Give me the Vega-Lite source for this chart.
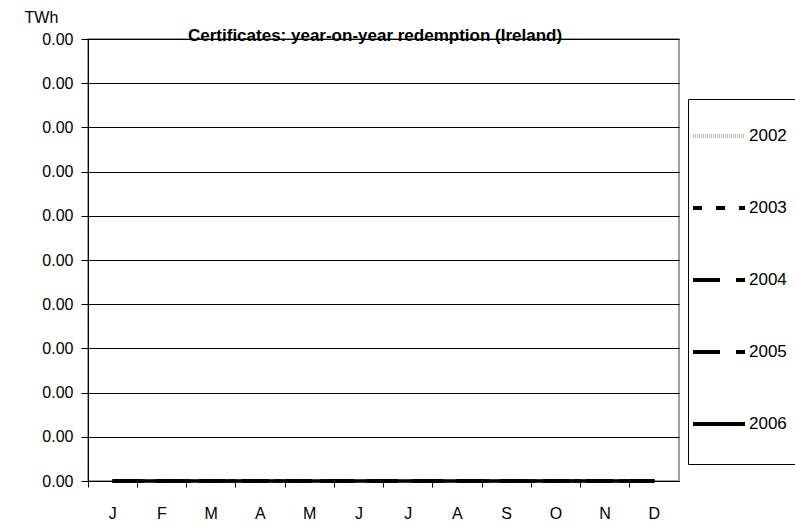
{
  "$schema": "https://vega.github.io/schema/vega-lite/v6.json",
  "width": 591,
  "height": 442,
  "autosize": "none",
  "padding": {"left": 88, "top": 39, "right": 116, "bottom": 48},
  "background": "white",
  "title": {
    "text": "Certificates: year-on-year redemption (Ireland)",
    "anchor": "start",
    "frame": "group",
    "dx": 100,
    "dy": 48,
    "offset": -1,
    "baseline": "alphabetic",
    "font": "Liberation Sans",
    "fontSize": 17,
    "fontWeight": "bold",
    "color": "black"
  },
  "data": {
    "values": [
      {"month": "J1", "year": "2002", "twh": 0}, {"month": "F", "year": "2002", "twh": 0}, {"month": "M1", "year": "2002", "twh": 0}, {"month": "A1", "year": "2002", "twh": 0}, {"month": "M2", "year": "2002", "twh": 0}, {"month": "J2", "year": "2002", "twh": 0}, {"month": "J3", "year": "2002", "twh": 0}, {"month": "A2", "year": "2002", "twh": 0}, {"month": "S", "year": "2002", "twh": 0}, {"month": "O", "year": "2002", "twh": 0}, {"month": "N", "year": "2002", "twh": 0}, {"month": "D", "year": "2002", "twh": 0},
      {"month": "J1", "year": "2003", "twh": 0}, {"month": "F", "year": "2003", "twh": 0}, {"month": "M1", "year": "2003", "twh": 0}, {"month": "A1", "year": "2003", "twh": 0}, {"month": "M2", "year": "2003", "twh": 0}, {"month": "J2", "year": "2003", "twh": 0}, {"month": "J3", "year": "2003", "twh": 0}, {"month": "A2", "year": "2003", "twh": 0}, {"month": "S", "year": "2003", "twh": 0}, {"month": "O", "year": "2003", "twh": 0}, {"month": "N", "year": "2003", "twh": 0}, {"month": "D", "year": "2003", "twh": 0},
      {"month": "J1", "year": "2004", "twh": 0}, {"month": "F", "year": "2004", "twh": 0}, {"month": "M1", "year": "2004", "twh": 0}, {"month": "A1", "year": "2004", "twh": 0}, {"month": "M2", "year": "2004", "twh": 0}, {"month": "J2", "year": "2004", "twh": 0}, {"month": "J3", "year": "2004", "twh": 0}, {"month": "A2", "year": "2004", "twh": 0}, {"month": "S", "year": "2004", "twh": 0}, {"month": "O", "year": "2004", "twh": 0}, {"month": "N", "year": "2004", "twh": 0}, {"month": "D", "year": "2004", "twh": 0},
      {"month": "J1", "year": "2005", "twh": 0}, {"month": "F", "year": "2005", "twh": 0}, {"month": "M1", "year": "2005", "twh": 0}, {"month": "A1", "year": "2005", "twh": 0}, {"month": "M2", "year": "2005", "twh": 0}, {"month": "J2", "year": "2005", "twh": 0}, {"month": "J3", "year": "2005", "twh": 0}, {"month": "A2", "year": "2005", "twh": 0}, {"month": "S", "year": "2005", "twh": 0}, {"month": "O", "year": "2005", "twh": 0}, {"month": "N", "year": "2005", "twh": 0}, {"month": "D", "year": "2005", "twh": 0},
      {"month": "J1", "year": "2006", "twh": 0}, {"month": "F", "year": "2006", "twh": 0}, {"month": "M1", "year": "2006", "twh": 0}, {"month": "A1", "year": "2006", "twh": 0}, {"month": "M2", "year": "2006", "twh": 0}, {"month": "J2", "year": "2006", "twh": 0}, {"month": "J3", "year": "2006", "twh": 0}, {"month": "A2", "year": "2006", "twh": 0}, {"month": "S", "year": "2006", "twh": 0}, {"month": "O", "year": "2006", "twh": 0}, {"month": "N", "year": "2006", "twh": 0}, {"month": "D", "year": "2006", "twh": 0}
    ]
  },
  "mark": {"type": "line", "strokeCap": "butt", "strokeWidth": 3.5},
  "encoding": {
    "x": {
      "field": "month",
      "type": "ordinal",
      "sort": ["J1", "F", "M1", "A1", "M2", "J2", "J3", "A2", "S", "O", "N", "D"],
      "scale": {"type": "band", "paddingInner": 0, "paddingOuter": 0},
      "axis": {
        "title": null,
        "labelExpr": "slice(datum.value, 0, 1)",
        "labelAngle": 0,
        "bandPosition": 0,
        "grid": false,
        "domainColor": "black",
        "tickColor": "black",
        "tickSize": 6,
        "labelPadding": 18,
        "labelFont": "Liberation Sans",
        "labelFontSize": 16,
        "labelColor": "black"
      }
    },
    "y": {
      "field": "twh",
      "type": "quantitative",
      "scale": {"domain": [0, 0.001], "nice": false},
      "axis": {
        "values": [0, 0.0001, 0.0002, 0.0003, 0.0004, 0.0005, 0.0006, 0.0007, 0.0008, 0.0009, 0.001],
        "format": ".2f",
        "title": "TWh",
        "titleAngle": 0,
        "titleAlign": "left",
        "titleBaseline": "top",
        "titleX": -64,
        "titleY": -30,
        "titleFont": "Liberation Sans",
        "titleFontSize": 16,
        "titleFontWeight": "normal",
        "titleColor": "black",
        "grid": true,
        "gridColor": "black",
        "gridOpacity": 1,
        "gridWidth": 1,
        "domainColor": "black",
        "tickColor": "black",
        "tickSize": 7,
        "labelPadding": 8,
        "labelFont": "Liberation Sans",
        "labelFontSize": 16,
        "labelColor": "black"
      }
    },
    "color": {
      "field": "year",
      "type": "nominal",
      "scale": {"domain": ["2002", "2003", "2004", "2005", "2006"], "range": ["#bdbdbd", "black", "black", "black", "black"]},
      "legend": {
        "title": "                              ",
        "titleOrient": "bottom",
        "titleAnchor": "start",
        "titleFontSize": 13,
        "titlePadding": 10,
        "orient": "none",
        "legendX": 600,
        "legendY": 60,
        "strokeColor": "black",
        "fillColor": "white",
        "padding": 9,
        "symbolOffset": -6,
        "labelOffset": 2,
        "symbolType": "stroke",
        "symbolSize": 2700,
        "symbolStrokeWidth": 4,
        "rowPadding": 36,
        "labelFont": "Liberation Sans",
        "labelFontSize": 17,
        "labelColor": "black"
      }
    },
    "strokeDash": {
      "field": "year",
      "type": "nominal",
      "scale": {"domain": ["2002", "2003", "2004", "2005", "2006"], "range": [[1, 1], [9, 14], [27, 16], [27, 16], [1, 0]]}
    }
  },
  "config": {
    "view": {"stroke": "#808080", "strokeWidth": 1.5}
  }
}
